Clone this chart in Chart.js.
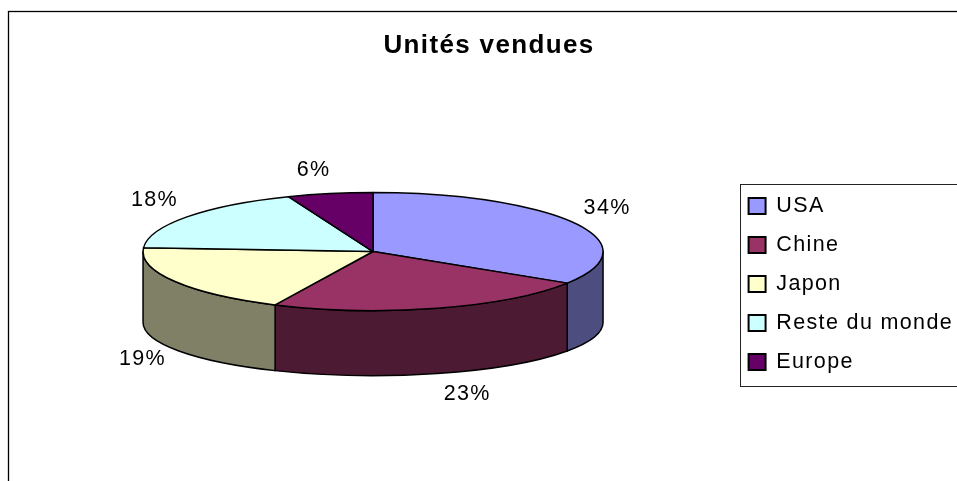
<!DOCTYPE html>
<html><head><meta charset="utf-8">
<script src="https://cdn.jsdelivr.net/npm/chart.js@4"></script>
<style>html,body{margin:0;padding:0;background:#fff;} canvas{display:block;}</style>
</head><body>
<canvas id="c" width="957" height="481"></canvas>
<script>
const categories = ['USA', 'Chine', 'Japon', 'Reste du monde', 'Europe'];
const unitsShare = [34, 23, 19, 18, 6];
const sliceColors = ['#9999FF', '#993366', '#FFFFCC', '#CCFFFF', '#660066'];
const chartTitle = 'Unités vendues';

const FONT = "'Liberation Sans', Arial, sans-serif";
const SPACING = '1.35px';

function halfColor(hex) {
  const n = parseInt(hex.slice(1), 16);
  const r = (n >> 16) & 255, g = (n >> 8) & 255, b = n & 255;
  return `rgb(${Math.round(r / 2)},${Math.round(g / 2)},${Math.round(b / 2)})`;
}

const spacingPlugin = {
  id: 'spacing',
  beforeLayout(chart) { chart.ctx.letterSpacing = SPACING; },
  beforeDraw(chart) {
    const ctx = chart.ctx;
    ctx.letterSpacing = SPACING;
    ctx.save();
    ctx.fillStyle = '#fff';
    ctx.fillRect(0, 0, chart.width, chart.height);
    ctx.strokeStyle = '#000';
    ctx.lineWidth = 1.3;
    ctx.strokeRect(8.5, 11.5, chart.width * 2, chart.height * 2);
    ctx.restore();
  },
  afterDraw(chart) {
    const hb = chart.legend && chart.legend.legendHitBoxes;
    if (!hb || !hb.length) return;
    const ctx = chart.ctx;
    const left = Math.min(...hb.map(h => h.left)) - 9;
    const top = Math.min(...hb.map(h => h.top)) - 11.5;
    const bottom = Math.max(...hb.map(h => h.top + h.height)) + 12.5;
    ctx.save();
    ctx.strokeStyle = '#222';
    ctx.lineWidth = 1;
    ctx.strokeRect(Math.round(left) + 0.5, Math.round(top) + 0.5, chart.width, Math.round(bottom - top));
    ctx.restore();
  }
};

const pie3d = {
  id: 'pie3d',
  beforeDatasetsDraw(chart, args, opts) {
    const ctx = chart.ctx;
    const meta = chart.getDatasetMeta(0);
    const arcs = meta.data;
    if (!arcs.length) return false;
    const a0 = arcs[0];
    const rx = a0.outerRadius;
    const ry = rx * opts.tilt;
    const depth = rx * opts.depth;
    const ryb = ry * opts.bottomTilt;
    const cx = a0.x;
    const cy = a0.y - (depth + ryb - ry) / 2;
    const cyb = cy + depth;
    ctx.save();
    ctx.lineWidth = opts.lineWidth;
    ctx.strokeStyle = opts.lineColor;
    ctx.lineJoin = 'round';
    // side walls (front half only)
    arcs.forEach((arc) => {
      const s = Math.max(arc.startAngle, 0), e = Math.min(arc.endAngle, Math.PI);
      if (e <= s) return;
      ctx.beginPath();
      ctx.ellipse(cx, cy, rx, ry, 0, s, e);
      ctx.lineTo(cx + rx * Math.cos(e), cyb + ryb * Math.sin(e));
      ctx.ellipse(cx, cyb, rx, ryb, 0, e, s, true);
      ctx.closePath();
      ctx.fillStyle = halfColor(arc.options.backgroundColor);
      ctx.fill();
      ctx.stroke();
    });
    // top faces
    arcs.forEach((arc) => {
      ctx.beginPath();
      ctx.moveTo(cx, cy);
      ctx.ellipse(cx, cy, rx, ry, 0, arc.startAngle, arc.endAngle);
      ctx.closePath();
      ctx.fillStyle = arc.options.backgroundColor;
      ctx.fill();
      ctx.stroke();
    });
    // percentage labels
    const data = chart.data.datasets[0].data;
    const total = data.reduce((a, b) => a + b, 0);
    ctx.font = `${opts.labelSize}px ${FONT}`;
    ctx.fillStyle = '#000';
    ctx.textAlign = 'center';
    ctx.textBaseline = 'middle';
    const L = opts.labelOffset;
    arcs.forEach((arc, i) => {
      const t = (arc.startAngle + arc.endAngle) / 2;
      const c = Math.cos(t), s = Math.sin(t);
      const txt = Math.round(data[i] / total * 100) + '%';
      const hw = ctx.measureText(txt).width / 2;
      let px = cx + rx * c;
      let py;
      if (s > 0) py = cyb + ryb * s + (L.frontK * s - L.frontA);
      else py = cy + ry * s - (L.backA + L.backK * (-s));
      const k = Math.min(1, Math.max(0, (Math.abs(c) - 0.1) * 5));
      px += Math.sign(c) * (hw * k + L.gapX);
      ctx.fillText(txt, px, py);
    });
    ctx.restore();
    return false;
  }
};

new Chart(document.getElementById('c'), {
  type: 'pie',
  data: {
    labels: categories,
    datasets: [{
      data: unitsShare,
      backgroundColor: sliceColors,
      borderColor: '#000',
      borderWidth: 2,
      radius: 230,
      hoverOffset: 0
    }]
  },
  options: {
    responsive: false,
    animation: false,
    events: [],
    layout: { padding: { left: 15, right: -6, top: 0, bottom: 0 } },
    plugins: {
      title: {
        display: true, text: chartTitle, color: '#000',
        font: { family: FONT, size: 26, weight: 'bold', lineHeight: 1.2 },
        padding: { top: 30, bottom: 26 }
      },
      legend: {
        position: 'right', fullSize: false,
        labels: { color: '#000', font: { family: FONT, size: 21.5 }, boxWidth: 17, boxHeight: 16, padding: 17.5 }
      },
      tooltip: { enabled: false },
      pie3d: {
        tilt: 0.2565, depth: 0.309, bottomTilt: 0.9, lineWidth: 1.5, lineColor: '#000',
        labelSize: 21.5,
        labelOffset: { frontK: 26, frontA: 4, backA: 7, backK: 16.6, gapX: 9 }
      }
    }
  },
  plugins: [spacingPlugin, pie3d]
});
</script>
</body></html>
